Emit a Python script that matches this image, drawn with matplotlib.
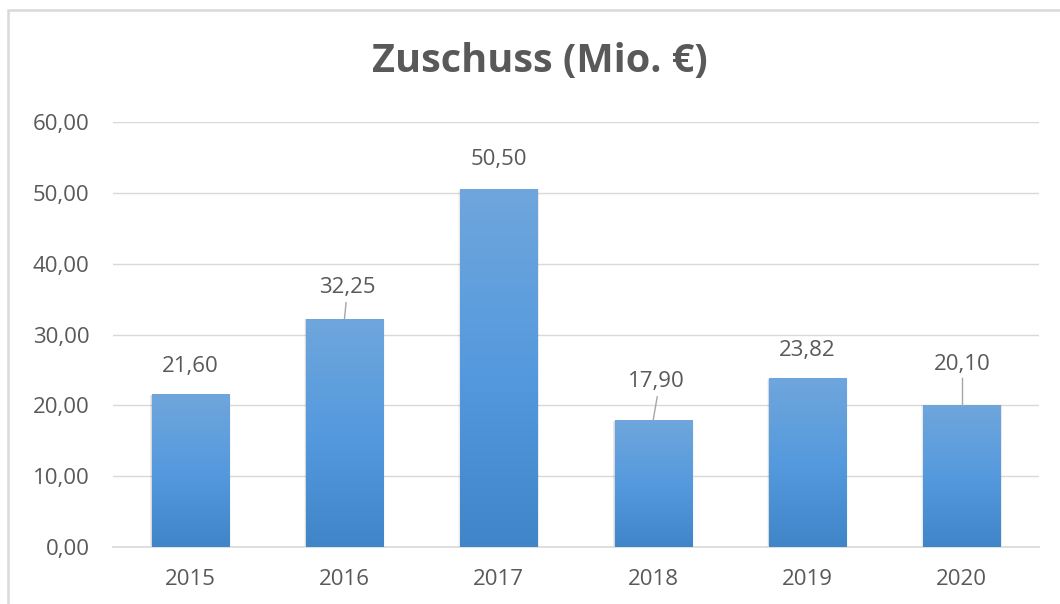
import numpy as np
import matplotlib
matplotlib.use("Agg")
import matplotlib.pyplot as plt
from matplotlib.patches import Rectangle
from matplotlib.colors import LinearSegmentedColormap

years = ["2015", "2016", "2017", "2018", "2019", "2020"]
values = [21.60, 32.25, 50.50, 17.90, 23.82, 20.10]
labels = ["21,60", "32,25", "50,50", "17,90", "23,82", "20,10"]
# label baseline offsets (data units above bar top), leader-line flags
label_offset = [3.1, 3.55, 3.4, 4.7, 3.1, 4.9]
leader = [False, True, False, True, False, True]
leader_top = [0, 2.25, 0, 3.3, 0, 3.8]
label_dx = [0, 0.016, 0, 0.023, 0, 0.0]
leader_dx = [0, 0.010, 0, 0.026, 0, 0.0]
yticks = [0, 10, 20, 30, 40, 50, 60]
title = "Zuschuss (Mio. €)"

plt.rcParams['font.family'] = ['Open Sans', 'DejaVu Sans']
grey = "#595959"

fig = plt.figure(figsize=(10.6, 6.04), dpi=100)
ax = fig.add_axes([113/1060, 1-547/604, (1039-113)/1060, (547-122)/604])

x = np.arange(len(years))
bars = ax.bar(x, values, width=0.5, color="none", zorder=3)

cmap = LinearSegmentedColormap.from_list("g", ["#3f85c8", "#559ade", "#6fa6dc"])
grad = np.linspace(0, 1, 256).reshape(-1, 1)
for b in bars:
    x0, y0 = b.get_x(), b.get_y()
    w, h = b.get_width(), b.get_height()
    for k, a in enumerate([0.07, 0.05, 0.03]):
        sh = Rectangle((x0 - 0.004 * (k + 1), y0), w + 0.008 * (k + 1), h - 0.1,
                       facecolor="#000000", alpha=a, edgecolor="none", zorder=2)
        ax.add_patch(sh)
    im = ax.imshow(grad, extent=[x0, x0 + w, y0, y0 + h], origin="lower",
                   aspect="auto", cmap=cmap, zorder=3)
    im.set_clip_path(b)

for i, (v, lab) in enumerate(zip(values, labels)):
    ty = v + label_offset[i]
    ax.text(x[i] + label_dx[i], ty, lab, ha="center", va="baseline",
            fontsize=16, color=grey, zorder=5)
    if leader[i]:
        ax.plot([x[i], x[i] + leader_dx[i]], [v, v + leader_top[i]],
                color="#a6a6a6", lw=1.0, zorder=4)

ax.set_xlim(-0.5, len(years) - 0.5)
ax.set_ylim(0, 60)
ax.set_yticks(yticks)
ax.set_yticklabels([f"{t:.2f}".replace(".", ",") for t in yticks])
ax.set_xticks(x)
ax.set_xticklabels(years)
ax.tick_params(axis="both", length=0, labelsize=16, colors=grey)
ax.tick_params(axis="y", pad=17)
ax.tick_params(axis="x", pad=16)
ax.grid(axis="y", color="#d9d9d9", lw=1, zorder=0)
ax.set_axisbelow(True)
for s in ["top", "right", "left"]:
    ax.spines[s].set_visible(False)
ax.spines["bottom"].set_color("#d9d9d9")
ax.spines["bottom"].set_linewidth(1.2)

fig.text(540/1060, 1-72/604, title, ha="center", va="baseline", fontsize=28.5,
         fontweight="bold", color=grey)

# outer chart frame
fig.patches.append(Rectangle((8/1060, -0.1), 1.2, 1 - 10/604 + 0.1,
                             transform=fig.transFigure, fill=False,
                             edgecolor="#d9d9d9", lw=1.8))

fig.savefig("out.png", dpi=100)
